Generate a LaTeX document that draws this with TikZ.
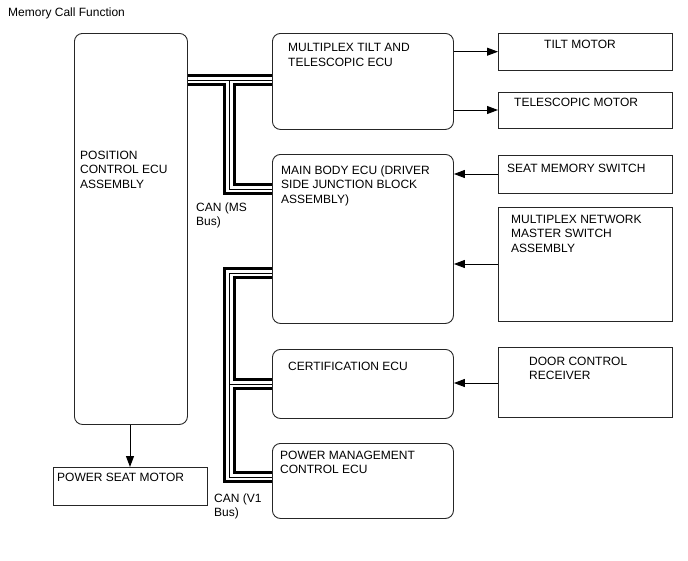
\documentclass[tikz,border=0pt]{standalone}
\usepackage{fontspec}
\setmainfont{Liberation Sans}
\usetikzlibrary{arrows.meta}
\begin{document}
\begin{tikzpicture}[x=1pt,y=-1pt,
  ecu/.style={draw=black!85, line width=0.9pt, rounded corners=8pt, inner sep=0pt, anchor=north west},
  plainbox/.style={draw=black!85, line width=0.9pt, inner sep=0pt, anchor=north west},
  lbl/.style={anchor=north west, inner sep=0pt, align=left, font=\fontsize{12}{14.5}\selectfont},
  sig/.style={-{Triangle[length=11pt,width=8pt]}, line width=1pt},
  busa/.style={line width=12.5pt, black, line join=miter},
  busb/.style={line width=6.5pt, white, line join=miter},
  busc/.style={line width=0.8pt, black, line join=miter}]
\useasboundingbox (0,0) rectangle (688,560);

% boxes
\node[ecu, minimum width=113pt, minimum height=391pt] (pc) at (74,33) {};
\node[plainbox, minimum width=154pt, minimum height=38pt] (psm) at (53,467) {};
\node[ecu, minimum width=181pt, minimum height=96pt] (tecu) at (272,33) {};
\node[plainbox, minimum width=174pt, minimum height=37pt] (tilt) at (498,33) {};
\node[plainbox, minimum width=174pt, minimum height=36pt] (tele) at (498,92) {};
\node[ecu, minimum width=181pt, minimum height=169pt] (mb) at (272,154) {};
\node[plainbox, minimum width=174pt, minimum height=38pt] (sms) at (498,155) {};
\node[plainbox, minimum width=174pt, minimum height=114pt] (mns) at (498,207) {};
\node[ecu, minimum width=181pt, minimum height=69pt] (cert) at (272,349) {};
\node[plainbox, minimum width=174pt, minimum height=70pt] (dcr) at (498,347) {};
\node[ecu, minimum width=181pt, minimum height=75pt] (pm) at (272,443) {};

% texts
\node[lbl] (title) at (8,7.5) {Memory Call Function};
\node[lbl] (tpc) at (80,150.5) {POSITION\\CONTROL ECU\\ASSEMBLY};
\node[lbl] (tpsm) at (57,472.5) {POWER SEAT MOTOR};
\node[lbl] (ttecu) at (288,43.5) {MULTIPLEX TILT AND\\TELESCOPIC ECU};
\node[lbl] (ttilt) at (544,39.5) {TILT MOTOR};
\node[lbl] (ttele) at (514,97.5) {TELESCOPIC MOTOR};
\node[lbl] (tmb) at (281,165.5) {MAIN BODY ECU (DRIVER\\SIDE JUNCTION BLOCK\\ASSEMBLY)};
\node[lbl] (tsms) at (507,163.5) {SEAT MEMORY SWITCH};
\node[lbl] (tmns) at (511,214.5) {MULTIPLEX NETWORK\\MASTER SWITCH\\ASSEMBLY};
\node[lbl] (tcert) at (288,361.5) {CERTIFICATION ECU};
\node[lbl] (tdcr) at (529,356.5) {DOOR CONTROL\\RECEIVER};
\node[lbl] (tpm) at (280,450.5) {POWER MANAGEMENT\\CONTROL ECU};
\node[lbl] (tms) at (196,202.5) {CAN (MS\\Bus)};
\node[lbl] (tv1) at (214,493.5) {CAN (V1\\Bus)};

% signal arrows
\draw[sig] (pc.south -| 130,0) -- (psm.north -| 130,0);
\draw[sig] (tecu.east |- 0,51.7) -- (tilt.west |- 0,51.7);
\draw[sig] (tecu.east |- 0,110) -- (tele.west |- 0,110);
\draw[sig] (sms.west |- 0,174) -- (mb.east |- 0,174);
\draw[sig] (mns.west |- 0,264) -- (mb.east |- 0,264);
\draw[sig] (dcr.west |- 0,383) -- (cert.east |- 0,383);

% buses
\coordinate (msj) at (229.5,80);
\coordinate (msc) at (229.5,189);
\coordinate (v1t) at (229.5,273);
\coordinate (v1m) at (229.5,384);
\coordinate (v1b) at (229.5,477);
\foreach \st in {busa,busb,busc}{
  \draw[\st] (pc.east |- msj) -- (tecu.west |- msj);
  \draw[\st] (msj) -- (msc) -- (mb.west |- msc);
  \draw[\st] (mb.west |- v1t) -- (v1t) -- (v1b) -- (pm.west |- v1b);
  \draw[\st] (v1m) -- (cert.west |- v1m);
}
\end{tikzpicture}
\end{document}
